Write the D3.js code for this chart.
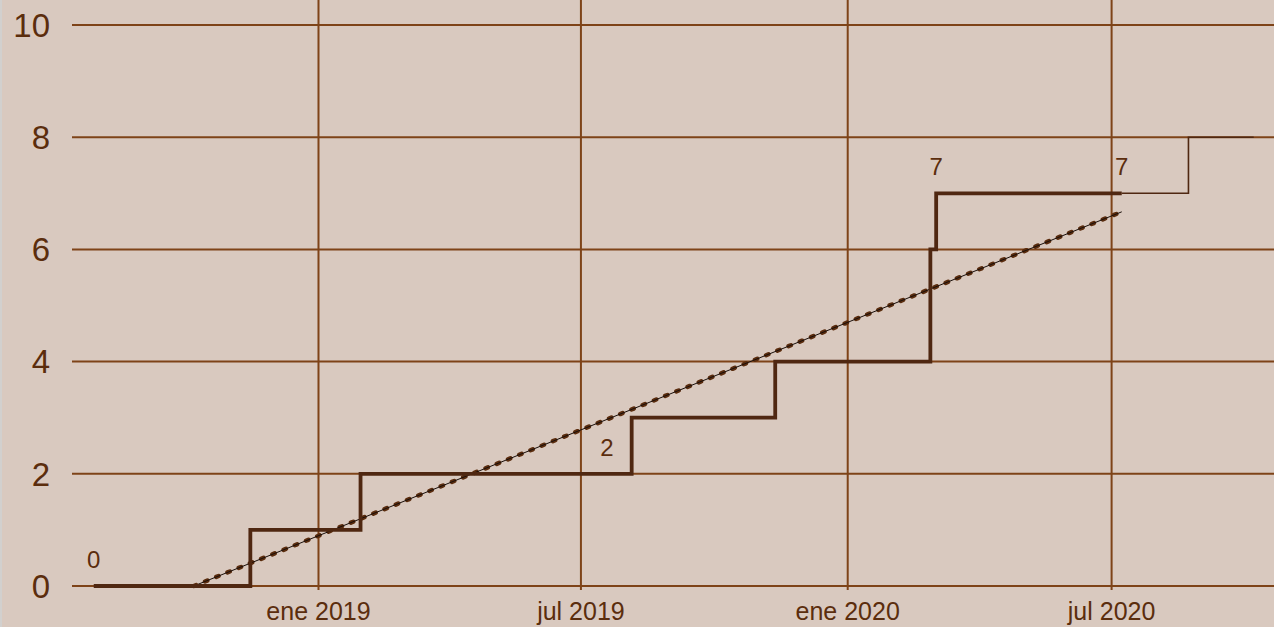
<!DOCTYPE html>
<html>
<head>
<meta charset="utf-8">
<script src="https://cdn.jsdelivr.net/npm/d3@7"></script>
<style>
  body { margin: 0; background: #d9c9bf; }
  svg { display: block; font-family: "Liberation Sans", Arial, sans-serif; }
</style>
</head>
<body>
<script>
(function chart(){
  var W = 1274, H = 627;

  // step series (cumulative count)
  var stepDates = ["2018-07-30", "2018-11-15", "2019-01-30", "2019-08-05", "2019-11-12", "2020-02-27", "2020-03-02", "2020-07-08"];
  var stepValues = [0, 1, 2, 3, 4, 6, 7, 7];
  // thin continuation
  var tailDates = ["2020-07-08", "2020-08-23", "2020-10-07"];
  var tailValues = [7, 8, 8];
  // linear trend
  var trendDates = ["2018-10-07", "2020-07-08"];
  var trendValues = [0, 6.67];
  // point labels
  var labelDates = ["2018-07-30", "2019-07-19", "2020-03-02", "2020-07-08"];
  var labelValues = [0, 2, 7, 7];
  var yTicks = [0, 2, 4, 6, 8, 10];
  var xTicks = ["2019-01-01", "2019-07-01", "2020-01-01", "2020-07-01"];
  var xTickLabels = ["ene 2019", "jul 2019", "ene 2020", "jul 2020"];

  var parse = d3.utcParse("%Y-%m-%d");
  var zip = function(ds, vs){ return ds.map(function(d, i){ return {date: parse(d), value: vs[i]}; }); };

  var svg = d3.select("body").append("svg")
    .attr("width", W)
    .attr("height", H);

  svg.append("rect").attr("width", W).attr("height", H).attr("fill", "#d9c9bf");
  svg.append("rect").attr("width", 2).attr("height", H).attr("fill", "#d2d0ce");

  var x = d3.scaleUtc()
    .domain([parse("2018-07-15"), parse("2020-10-21")])
    .range([72, 1274]);
  var y = d3.scaleLinear().domain([0, 10]).range([586, 25]);

  var grid = "#7e4318", txt = "#5b2d0d", dark = "#4f2711";

  // vertical grid
  svg.selectAll(".vgrid").data(xTicks).enter().append("line")
    .attr("class", "vgrid")
    .attr("x1", function(d){ return x(parse(d)); })
    .attr("x2", function(d){ return x(parse(d)); })
    .attr("y1", 0).attr("y2", 590)
    .attr("stroke", grid).attr("stroke-width", 2);

  // horizontal grid
  svg.selectAll(".hgrid").data(yTicks).enter().append("line")
    .attr("class", "hgrid")
    .attr("x1", 72).attr("x2", W)
    .attr("y1", function(d){ return y(d); })
    .attr("y2", function(d){ return y(d); })
    .attr("stroke", grid).attr("stroke-width", 2);

  svg.selectAll(".ylab").data(yTicks).enter().append("text")
    .attr("class", "ylab")
    .attr("x", 50)
    .attr("y", function(d){ return y(d); })
    .attr("dy", "0.36em")
    .attr("text-anchor", "end")
    .attr("font-size", 33)
    .attr("fill", txt)
    .text(function(d){ return d; });

  svg.selectAll(".xlab").data(xTicks).enter().append("text")
    .attr("class", "xlab")
    .attr("x", function(d){ return x(parse(d)); })
    .attr("y", 620)
    .attr("text-anchor", "middle")
    .attr("font-size", 25)
    .attr("fill", txt)
    .text(function(d, i){ return xTickLabels[i]; });

  var line = d3.line()
    .x(function(d){ return x(d.date); })
    .y(function(d){ return y(d.value); });

  // trend: brown dots + thin black line
  var trend = zip(trendDates, trendValues);
  svg.append("path").datum(trend)
    .attr("d", line)
    .attr("fill", "none")
    .attr("stroke", "#5a2c0e")
    .attr("stroke-width", 4.5)
    .attr("stroke-linecap", "round")
    .attr("stroke-dasharray", "2.5,9.6");
  svg.append("path").datum(trend)
    .attr("d", line)
    .attr("fill", "none")
    .attr("stroke", "#1a0f0a")
    .attr("stroke-width", 1);

  var stepLine = d3.line()
    .curve(d3.curveStepAfter)
    .x(function(d){ return x(d.date); })
    .y(function(d){ return y(d.value); });

  svg.append("path").datum(zip(tailDates, tailValues))
    .attr("d", stepLine)
    .attr("fill", "none")
    .attr("stroke", dark)
    .attr("stroke-width", 1.6);

  svg.append("path").datum(zip(stepDates, stepValues))
    .attr("d", stepLine)
    .attr("fill", "none")
    .attr("stroke", dark)
    .attr("stroke-width", 3.8);

  svg.selectAll(".plab").data(zip(labelDates, labelValues)).enter().append("text")
    .attr("class", "plab")
    .attr("x", function(d){ return x(d.date); })
    .attr("y", function(d){ return y(d.value) - 18; })
    .attr("text-anchor", "middle")
    .attr("font-size", 24)
    .attr("fill", txt)
    .text(function(d){ return d.value; });
})();
</script>
</body>
</html>
